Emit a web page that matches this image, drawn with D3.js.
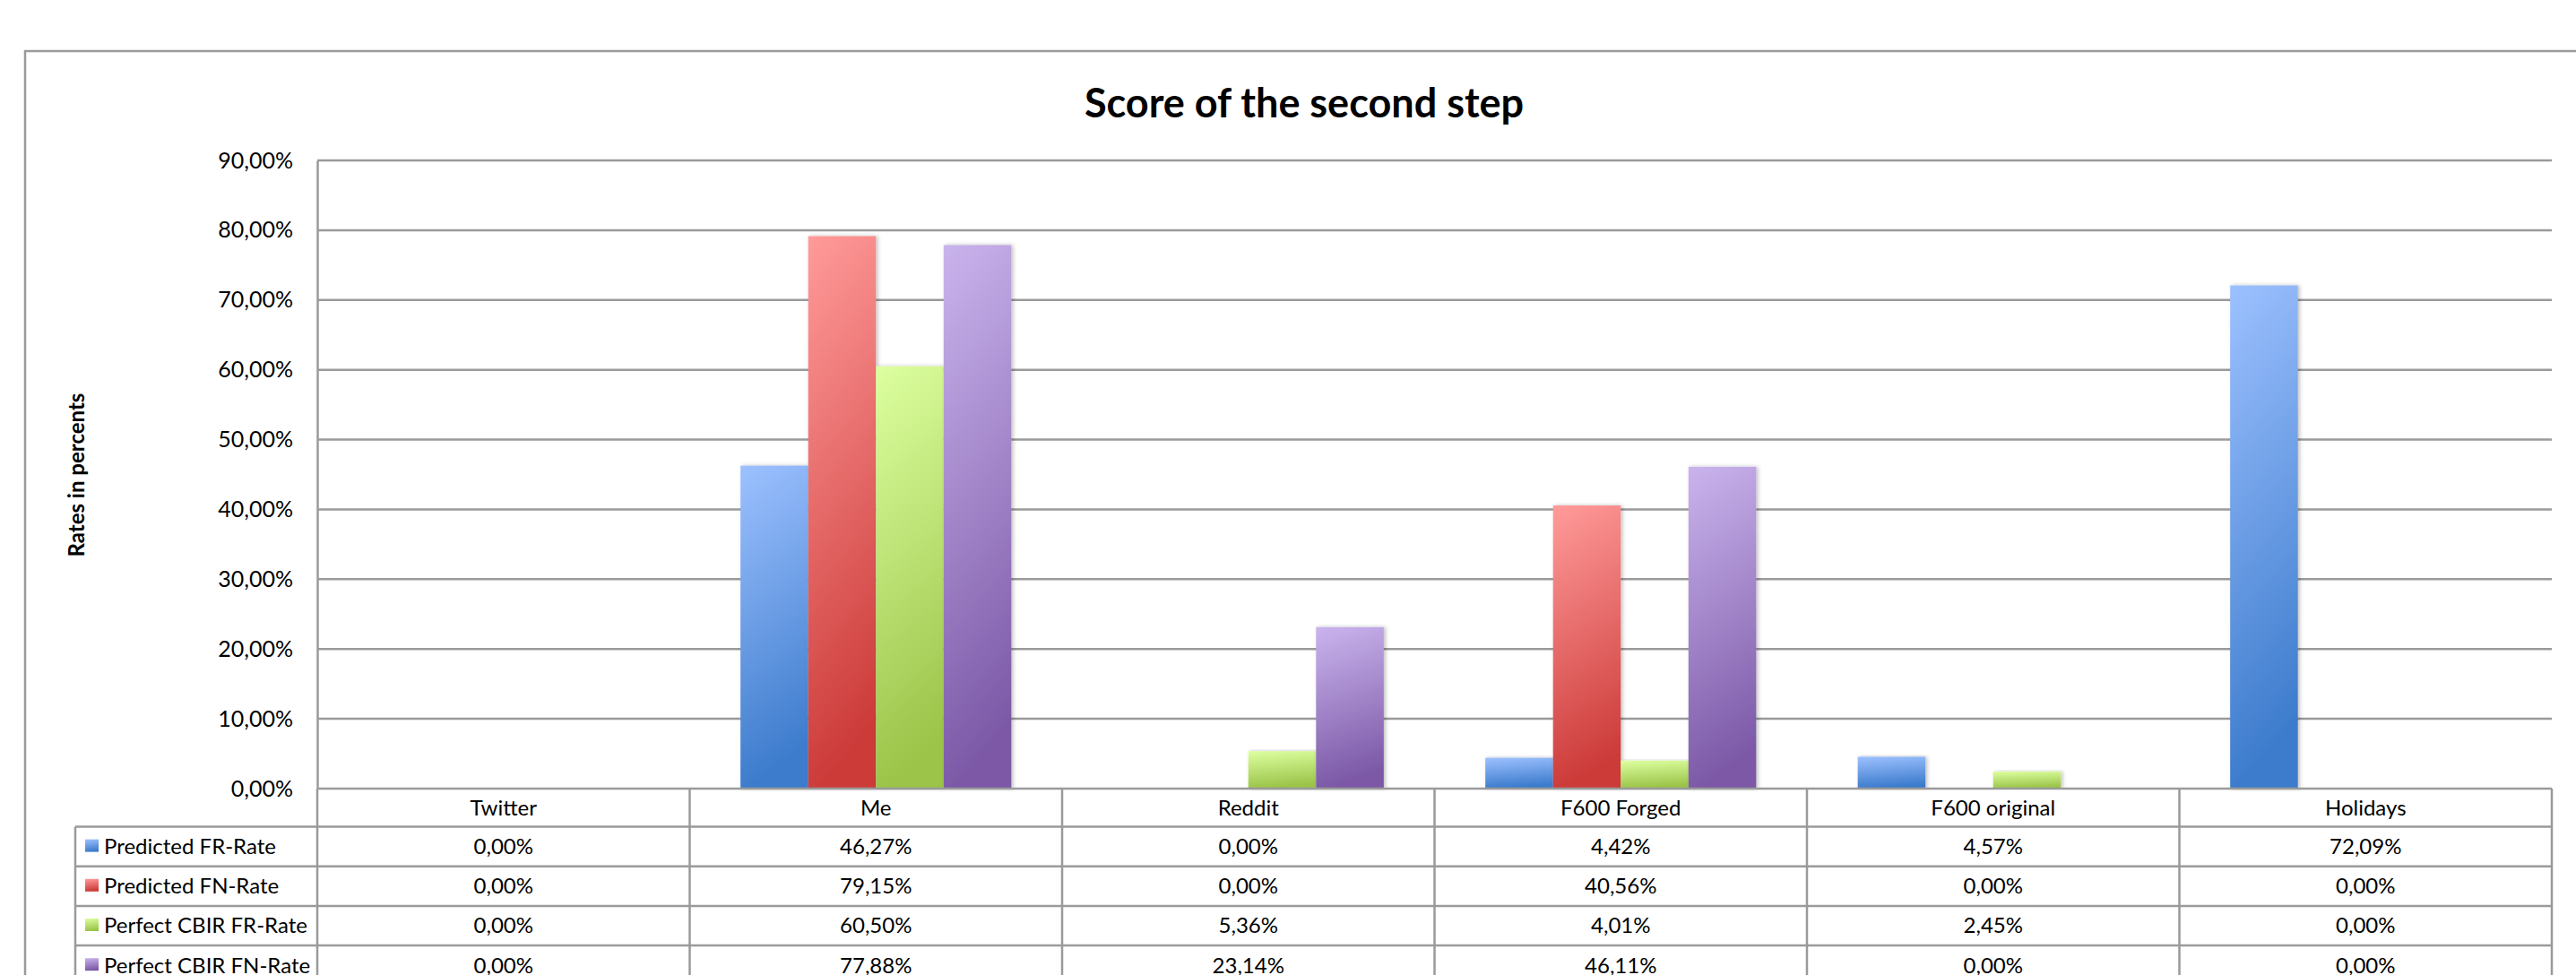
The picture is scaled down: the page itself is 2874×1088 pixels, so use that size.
<!DOCTYPE html>
<html>
<head>
<meta charset="utf-8">
<script src="https://cdn.jsdelivr.net/npm/d3@7"></script>
<style>
    body { margin: 0; background: #fff; }
    svg { display: block; }
    text { font-family: Lato, "Open Sans", sans-serif; fill: #000; }
</style>
</head>
<body>
<svg id="chart" width="2874" height="1088"></svg>
<script>
"use strict"

// categories (x axis / table columns)
var categories = ["Twitter", "Me", "Reddit", "F600 Forged", "F600 original", "Holidays"];

// series names
var seriesNames = ["Predicted FR-Rate", "Predicted FN-Rate", "Perfect CBIR FR-Rate", "Perfect CBIR FN-Rate"];

// values in percent
var predictedFR = [0.00, 46.27, 0.00, 4.42, 4.57, 72.09];
var predictedFN = [0.00, 79.15, 0.00, 40.56, 0.00, 0.00];
var perfectFR   = [0.00, 60.50, 5.36, 4.01, 2.45, 0.00];
var perfectFN   = [0.00, 77.88, 23.14, 46.11, 0.00, 0.00];

// y ticks
var yTicks = [0, 10, 20, 30, 40, 50, 60, 70, 80, 90];

var seriesValues = [predictedFR, predictedFN, perfectFR, perfectFN];

// gradient colours (top, bottom) per series
var colors = [
    ["#9dc1ff", "#3c7bcc"],
    ["#ff9b9a", "#cc3b39"],
    ["#ddffa0", "#9bc449"],
    ["#cab4ed", "#7c59a7"]
];

var svg = d3.select("#chart");

var left = 354, right = 2847, y0 = 880, yTop = 179;
var tableLeft = 84, headerBottom = 922.5, rowH = 44.2;
var gridColor = "#9a9a9a";

var x = d3.scaleBand().domain(categories).range([left, right]).padding(0);
var xs = d3.scaleBand().domain(d3.range(seriesNames.length))
    .range([0, x.bandwidth()]).paddingInner(0).paddingOuter(0.75);
var y = d3.scaleLinear().domain([0, 90]).range([y0, yTop]);

function pct(v) {
    return v.toFixed(2).replace(".", ",") + "%";
}

// gradients
var defs = svg.append("defs");
colors.forEach(function(c, i) {
    var g = defs.append("linearGradient")
        .attr("id", "grad" + i)
        .attr("x1", 0).attr("y1", 0).attr("x2", 0.15).attr("y2", 1);
    g.append("stop").attr("offset", "0%").attr("stop-color", c[0]);
    g.append("stop").attr("offset", "100%").attr("stop-color", c[1]);
});
var shadow = defs.append("filter").attr("id", "shadow")
    .attr("x", "-20%").attr("y", "-5%").attr("width", "140%").attr("height", "110%");
shadow.append("feDropShadow").attr("dx", 2).attr("dy", 0).attr("stdDeviation", 2)
    .attr("flood-color", "#000").attr("flood-opacity", 0.25);

// outer frame (runs off the page on the right and bottom)
svg.append("rect")
    .attr("x", 28).attr("y", 57)
    .attr("width", 3000).attr("height", 1200)
    .attr("fill", "none")
    .attr("stroke", gridColor)
    .attr("stroke-width", 2.5);

// title
svg.append("text")
    .attr("x", 1455).attr("y", 131)
    .attr("text-anchor", "middle")
    .style("font-size", "45px")
    .style("font-weight", "bold")
    .text("Score of the second step");

// gridlines
svg.append("g")
    .selectAll("line")
    .data(yTicks.filter(function(d){ return d > 0; }))
    .enter()
    .append("line")
    .attr("x1", left).attr("x2", right)
    .attr("y1", function(d){ return y(d); })
    .attr("y2", function(d){ return y(d); })
    .attr("stroke", gridColor)
    .attr("stroke-width", 2.5);

// y axis
var yAxis = d3.axisLeft(y)
    .tickValues(yTicks)
    .tickSize(0)
    .tickPadding(27)
    .tickFormat(pct);
var ya = svg.append("g")
    .attr("transform", "translate(" + left + ",0)")
    .call(yAxis);
ya.select(".domain").attr("stroke", gridColor).attr("stroke-width", 2.5);
ya.selectAll("text")
    .style("font-family", "Lato, sans-serif")
    .style("font-size", "25px");

// y axis title
svg.append("text")
    .attr("transform", "translate(94,530) rotate(-90)")
    .attr("text-anchor", "middle")
    .style("font-size", "24px")
    .style("font-weight", "bold")
    .text("Rates in percents");

// bars
var groups = svg.append("g")
    .selectAll("g")
    .data(seriesValues)
    .enter()
    .append("g")
    .attr("fill", function(d, i){ return "url(#grad" + i + ")"; });

groups.each(function(vals, si) {
    d3.select(this).selectAll("rect")
        .data(vals.map(function(v, ci){ return { cat: categories[ci], v: v }; })
            .filter(function(d){ return d.v > 0; }))
        .enter()
        .append("rect")
        .attr("x", function(d){ return x(d.cat) + xs(si); })
        .attr("width", xs.bandwidth())
        .attr("y", function(d){ return y(d.v); })
        .attr("height", function(d){ return y0 - y(d.v); })
        .attr("filter", "url(#shadow)");
});

// axis line on top of bars
svg.append("line")
    .attr("x1", left).attr("x2", right)
    .attr("y1", y0).attr("y2", y0)
    .attr("stroke", gridColor).attr("stroke-width", 2.5);

// data table
var table = svg.append("g");

// horizontal lines
table.selectAll("line.h")
    .data(d3.range(seriesNames.length + 1))
    .enter()
    .append("line")
    .attr("class", "h")
    .attr("x1", tableLeft).attr("x2", right)
    .attr("y1", function(d){ return headerBottom + d * rowH; })
    .attr("y2", function(d){ return headerBottom + d * rowH; })
    .attr("stroke", gridColor).attr("stroke-width", 2.5);

// vertical lines between columns
table.selectAll("line.v")
    .data(categories.map(function(c){ return x(c); }).concat([right]))
    .enter()
    .append("line")
    .attr("class", "v")
    .attr("x1", function(d){ return d; }).attr("x2", function(d){ return d; })
    .attr("y1", y0).attr("y2", 1100)
    .attr("stroke", gridColor).attr("stroke-width", 2.5);

table.append("line")
    .attr("x1", tableLeft).attr("x2", tableLeft)
    .attr("y1", headerBottom).attr("y2", 1100)
    .attr("stroke", gridColor).attr("stroke-width", 2.5);

// header: category names
table.selectAll("text.cat")
    .data(categories)
    .enter()
    .append("text")
    .attr("class", "cat")
    .attr("x", function(d){ return x(d) + x.bandwidth() / 2; })
    .attr("y", (y0 + headerBottom) / 2)
    .attr("dy", "0.35em")
    .attr("text-anchor", "middle")
    .style("font-size", "24px")
    .text(function(d){ return d; });

// rows: legend key + values
seriesNames.forEach(function(name, si) {
    var cy = headerBottom + si * rowH + rowH / 2;

    table.append("rect")
        .attr("x", 95).attr("y", cy - 8)
        .attr("width", 15).attr("height", 14)
        .attr("fill", "url(#grad" + si + ")");

    table.append("text")
        .attr("x", 116).attr("y", cy)
        .attr("dy", "0.35em")
        .style("font-size", "24px")
        .text(name);

    table.selectAll("text.val" + si)
        .data(seriesValues[si])
        .enter()
        .append("text")
        .attr("class", "val" + si)
        .attr("x", function(d, i){ return x(categories[i]) + x.bandwidth() / 2; })
        .attr("y", cy)
        .attr("dy", "0.35em")
        .attr("text-anchor", "middle")
        .style("font-size", "24px")
        .text(pct);
});
</script>
</body>
</html>
